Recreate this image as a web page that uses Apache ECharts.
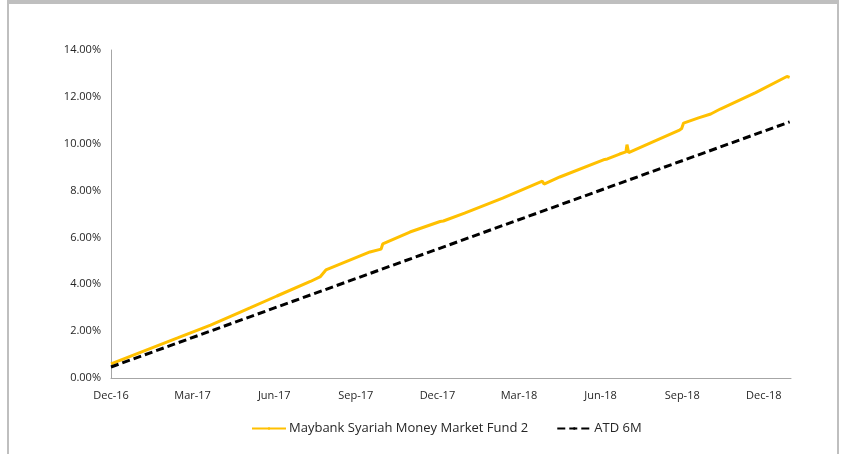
<!DOCTYPE html>
<html>
<head>
<meta charset="utf-8">
<script src="https://cdn.jsdelivr.net/npm/echarts@6/dist/echarts.min.js"></script>
<style>
  html, body { margin: 0; padding: 0; background: #fff; }
  #chart { position: absolute; left: 0; top: 0; width: 845px; height: 454px; }
  #frame {
    position: absolute; left: 7px; top: 0; width: 832px; height: 454px;
    border-top: 4px solid #bfbfbf; border-left: 2px solid #bfbfbf; border-right: 2px solid #bfbfbf;
    box-sizing: border-box; pointer-events: none;
  }
</style>
</head>
<body>
<div id="chart"></div>
<div id="frame"></div>
<script>
// x = months since Dec-16, y = cumulative return (%)
const xTickLabels = ['Dec-16', 'Mar-17', 'Jun-17', 'Sep-17', 'Dec-17', 'Mar-18', 'Jun-18', 'Sep-18', 'Dec-18']
const fundName = 'Maybank Syariah Money Market Fund 2'
const atdName = 'ATD 6M'
const fundData = [
  [0, 0.60], [1.2, 1.15], [2.45, 1.71], [3.66, 2.26], [4.65, 2.76], [5.13, 3.00],
  [6.1, 3.50], [7.33, 4.12], [7.7, 4.33], [7.9, 4.61], [8.06, 4.69], [9.52, 5.38],
  [9.93, 5.50], [9.96, 5.44], [9.99, 5.72], [10.99, 6.23], [12.1, 6.68], [12.16, 6.62],
  [12.22, 6.70], [13.0, 7.04], [14.4, 7.68], [15.86, 8.40], [15.92, 8.28], [16.5, 8.58],
  [18.15, 9.33], [18.2, 9.40], [18.25, 9.35], [18.7, 9.56], [18.93, 9.65], [18.97, 9.96],
  [19.03, 9.62], [19.9, 10.07], [20.9, 10.58], [20.98, 10.65], [21.05, 10.88], [21.6, 11.10],
  [22.05, 11.27], [22.4, 11.48], [23.7, 12.18], [24.85, 12.87], [24.95, 12.83]
]
const atdData = [[0, 0.47], [24.95, 10.93]]

const font = '"Open Sans", sans-serif'
let mycharts = echarts.init(document.getElementById('chart'))
mycharts.setOption({
  animation: false,
  grid: { left: 111, right: 54, top: 50, bottom: 76 },
  xAxis: {
    type: 'value',
    min: 0,
    max: 25,
    interval: 3,
    splitLine: { show: false },
    axisTick: { show: false },
    axisLine: { lineStyle: { color: '#a6a6a6', width: 1 } },
    axisLabel: {
      showMaxLabel: false,
      margin: 12,
      color: '#262626',
      fontFamily: font,
      fontSize: 11,
      formatter: (v) => xTickLabels[Math.round(v / 3)] || ''
    }
  },
  yAxis: {
    type: 'value',
    min: 0,
    max: 14,
    interval: 2,
    splitLine: { show: false },
    axisTick: { show: false },
    axisLine: { show: true, lineStyle: { color: '#a6a6a6', width: 1 } },
    axisLabel: {
      margin: 10,
      color: '#262626',
      fontFamily: font,
      fontSize: 11,
      formatter: (v) => v.toFixed(2) + '%'
    }
  },
  legend: {
    bottom: 14,
    left: 246,
    itemWidth: 34,
    itemHeight: 3,
    itemGap: 28,
    textStyle: { color: '#262626', fontFamily: font, fontSize: 13, padding: [0, 0, 0, -2] },
    data: [fundName, atdName]
  },
  series: [
    {
      name: fundName,
      type: 'line',
      data: fundData,
      symbol: 'none',
      lineStyle: { color: '#ffc000', width: 3 },
      itemStyle: { color: '#ffc000' }
    },
    {
      name: atdName,
      type: 'line',
      data: atdData,
      symbol: 'none',
      lineStyle: { color: '#000', width: 3, type: [8, 4] },
      itemStyle: { color: '#000' }
    }
  ]
})
</script>
</body>
</html>
